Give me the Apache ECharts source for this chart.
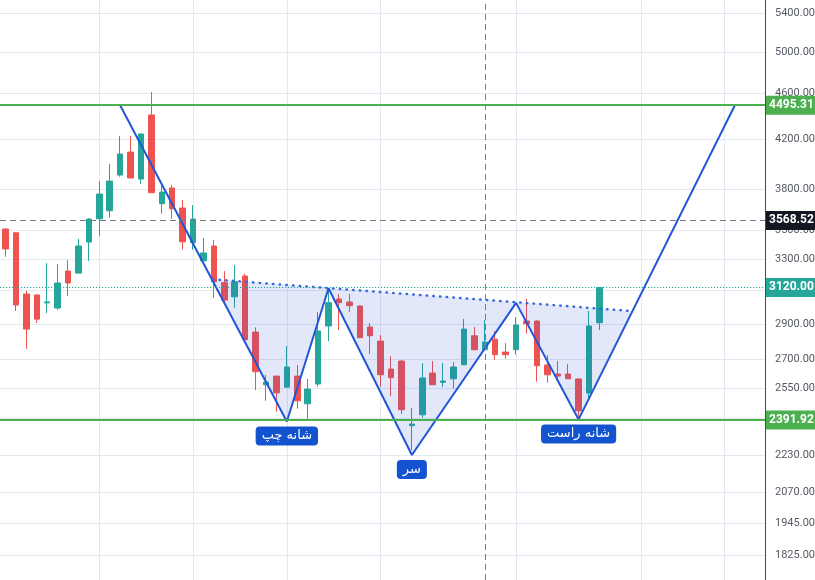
<!DOCTYPE html>
<html>
<head>
<meta charset="utf-8">
<script src="https://cdn.jsdelivr.net/npm/echarts@6/dist/echarts.min.js"></script>
<style>
html, body { margin: 0; padding: 0; background: #ffffff; }
#chart { width: 815px; height: 580px; }
</style>
</head>
<body>
<div id="chart"></div>
<script>
// Weekly candles, oldest first
const opens  = [3507,3481,3079,3073,3025,2994,3224,3211,3417,3580,3638,3908,4092,3877,4408,3690,3808,3658,3412,3291,3390,3150,3062,3192,2853,2567,2612,2555,2612,2471,2571,2888,3048,3030,3006,2882,2802,2649,2692,2365,2417,2628,2580,2598,2672,2832,2754,2813,2741,2754,2917,2917,2671,2623,2623,2597,2525,2907];
const closes = [3370,3012,2870,2928,3031,3148,3148,3390,3578,3762,3861,4076,3885,4243,3772,3777,3653,3419,3578,3343,3156,3042,3156,2810,2635,2581,2526,2660,2486,2545,2859,3026,3026,3008,2821,2832,2619,2604,2442,2373,2602,2567,2586,2660,2870,2754,2797,2727,2727,2894,2901,2667,2619,2612,2598,2437,2888,3120];
const lows   = [3318,2976,2758,2905,2964,2983,3067,3209,3289,3460,3588,3895,3884,3841,3770,3617,3580,3365,3365,3289,3056,3012,2996,2793,2540,2486,2432,2553,2447,2392,2557,2802,2865,2970,2819,2730,2557,2510,2421,2252,2403,2566,2555,2547,2671,2753,2752,2699,2705,2727,2844,2583,2578,2583,2597,2408,2490,2865];
const highs  = [3515,3486,3099,3076,3276,3270,3296,3438,3585,3861,3995,4226,4226,4245,4615,3831,3831,3717,3680,3445,3431,3224,3263,3205,2880,2618,2614,2774,2670,2597,2970,3100,3079,3079,3010,2905,2836,2719,2698,2450,2681,2692,2681,2687,2929,2882,2923,2859,2791,2940,3048,2920,2725,2692,2675,2599,2976,3121];

// Price scale ticks on the right axis
const priceTicks = [5400, 5000, 4600, 4200, 3800, 3500, 3300, 3100, 2900, 2700, 2550, 2400, 2230, 2070, 1945, 1825];
// Candle positions that carry a vertical grid line
const timeGridIdx = [9, 18, 27, 36, 49, 61, 69];

// Inverse head and shoulders drawing
const patternIdx   = [11, 27, 31, 39, 49, 55, 70];
const patternPrice = [4495.31, 2385, 3115, 2230, 3025, 2395, 4495.31];
const necklineIdx   = [19.9, 60.1];
const necklinePrice = [3171, 2976];
const patternNames  = ['شانه چپ', 'سر', 'شانه راست'];
const patternNameAt = [1, 3, 5];

// Horizontal levels and crosshair
const resistance = 4495.31;
const support = 2391.92;
const lastPrice = closes[closes.length - 1];
const crossPrice = 3568.52;
const crossIdx = 46;

const UP = '#26a69a';
const DOWN = '#ef5350';
const BLUE = '#2356d5';
const GRID = '#e2e9f0';

const candles = opens.map((o, i) => [i, o, closes[i], lows[i], highs[i]]);
const zigzag = patternIdx.map((x, i) => [x, patternPrice[i]]);
const neckline = necklineIdx.map((x, i) => [x, necklinePrice[i]]);
const fillPts = [neckline[0]].concat(zigzag.slice(1, 6), [neckline[1]]);
const nameTags = patternNameAt.map((k, i) => ({ name: patternNames[i], value: zigzag[k] }));

const gridLines = priceTicks.map(v => ({
  yAxis: v,
  label: { formatter: v.toFixed(2) }
})).concat(timeGridIdx.map(x => ({ xAxis: x, label: { show: false } })));

function levelLabel(text, bg) {
  return {
    show: true, position: 'end', distance: 1, formatter: text,
    backgroundColor: bg, color: '#ffffff', fontWeight: 'bold',
    fontSize: 12, fontFamily: 'Roboto, sans-serif', padding: [4, 3, 3, 3]
  };
}

const chart = echarts.init(document.getElementById('chart'), null, { renderer: 'canvas' });
chart.setOption({
  animation: false,
  backgroundColor: '#ffffff',
  grid: { left: 0, right: 50, top: 0, bottom: 0 },
  xAxis: {
    type: 'value', min: -0.528, max: 72.89,
    axisLine: { show: false }, axisTick: { show: false },
    axisLabel: { show: false }, splitLine: { show: false }
  },
  yAxis: {
    type: 'log', logBase: 10, min: 1736, max: 5550, position: 'right',
    axisLine: { show: true, onZero: false, lineStyle: { color: '#454955', width: 1 } },
    axisTick: { show: false }, axisLabel: { show: false }, splitLine: { show: false }
  },
  series: [
    {
      // grid lines and price scale labels
      type: 'line', data: [], z: 1, clip: false, silent: true,
      markLine: {
        z: 1, silent: true, symbol: ['none', 'none'], animation: false,
        lineStyle: { color: GRID, width: 1, type: 'solid' },
        label: {
          show: true, position: 'end', distance: 10,
          color: '#555964', fontSize: 11, fontFamily: 'Roboto, sans-serif'
        },
        emphasis: { disabled: true },
        data: gridLines
      }
    },
    {
      type: 'candlestick', z: 2, data: candles,
      encode: { x: 0, y: [1, 2, 3, 4] },
      barWidth: 6,
      itemStyle: {
        color: UP, color0: DOWN, borderColor: UP, borderColor0: DOWN, borderWidth: 1
      }
    },
    {
      // shaded pattern area under the neckline
      type: 'custom', z: 3, silent: true, data: [[0, 3000]],
      renderItem: function (params, api) {
        const pts = fillPts.map(p => api.coord(p));
        return {
          type: 'polygon', shape: { points: pts },
          style: { fill: 'rgba(30, 80, 220, 0.13)' }
        };
      }
    },
    {
      type: 'line', z: 5, data: zigzag, symbol: 'none', silent: true,
      lineStyle: { color: BLUE, width: 2 }
    },
    {
      type: 'line', z: 5, data: neckline, symbol: 'none', silent: true,
      lineStyle: { color: '#3467dd', width: 2.5, type: [0.5, 6.2], cap: 'round' }
    },
    {
      // horizontal levels, last price and crosshair
      type: 'line', data: [], z: 10, clip: false, silent: true,
      markLine: {
        z: 10, silent: true, symbol: ['none', 'none'], animation: false,
        emphasis: { disabled: true },
        data: [
          { yAxis: crossPrice, lineStyle: { color: '#787b86', width: 1, type: [6, 4] },
            label: levelLabel(crossPrice.toFixed(2), '#131722') },
          { xAxis: crossIdx, lineStyle: { color: '#787b86', width: 1, type: [6, 4] },
            label: { show: false } },
          { yAxis: lastPrice, lineStyle: { color: UP, width: 1, type: [1.2, 1.8] },
            label: levelLabel(lastPrice.toFixed(2), UP) },
          { yAxis: resistance, lineStyle: { color: '#4caf50', width: 2, type: 'solid' },
            label: levelLabel(resistance.toFixed(2), '#4caf50') },
          { yAxis: support, lineStyle: { color: '#4caf50', width: 2, type: 'solid' },
            label: levelLabel(support.toFixed(2), '#4caf50') }
        ]
      }
    },
    {
      type: 'scatter', z: 12, silent: true, symbolSize: 0, data: nameTags,
      itemStyle: { opacity: 1 },
      label: {
        show: true, position: 'bottom', distance: 5,
        formatter: '{b}', color: '#ffffff', backgroundColor: '#1453cf',
        borderRadius: 4, padding: [3, 6, 3, 6], fontSize: 13,
        fontFamily: 'DejaVu Sans, sans-serif'
      }
    }
  ]
});
</script>
</body>
</html>
